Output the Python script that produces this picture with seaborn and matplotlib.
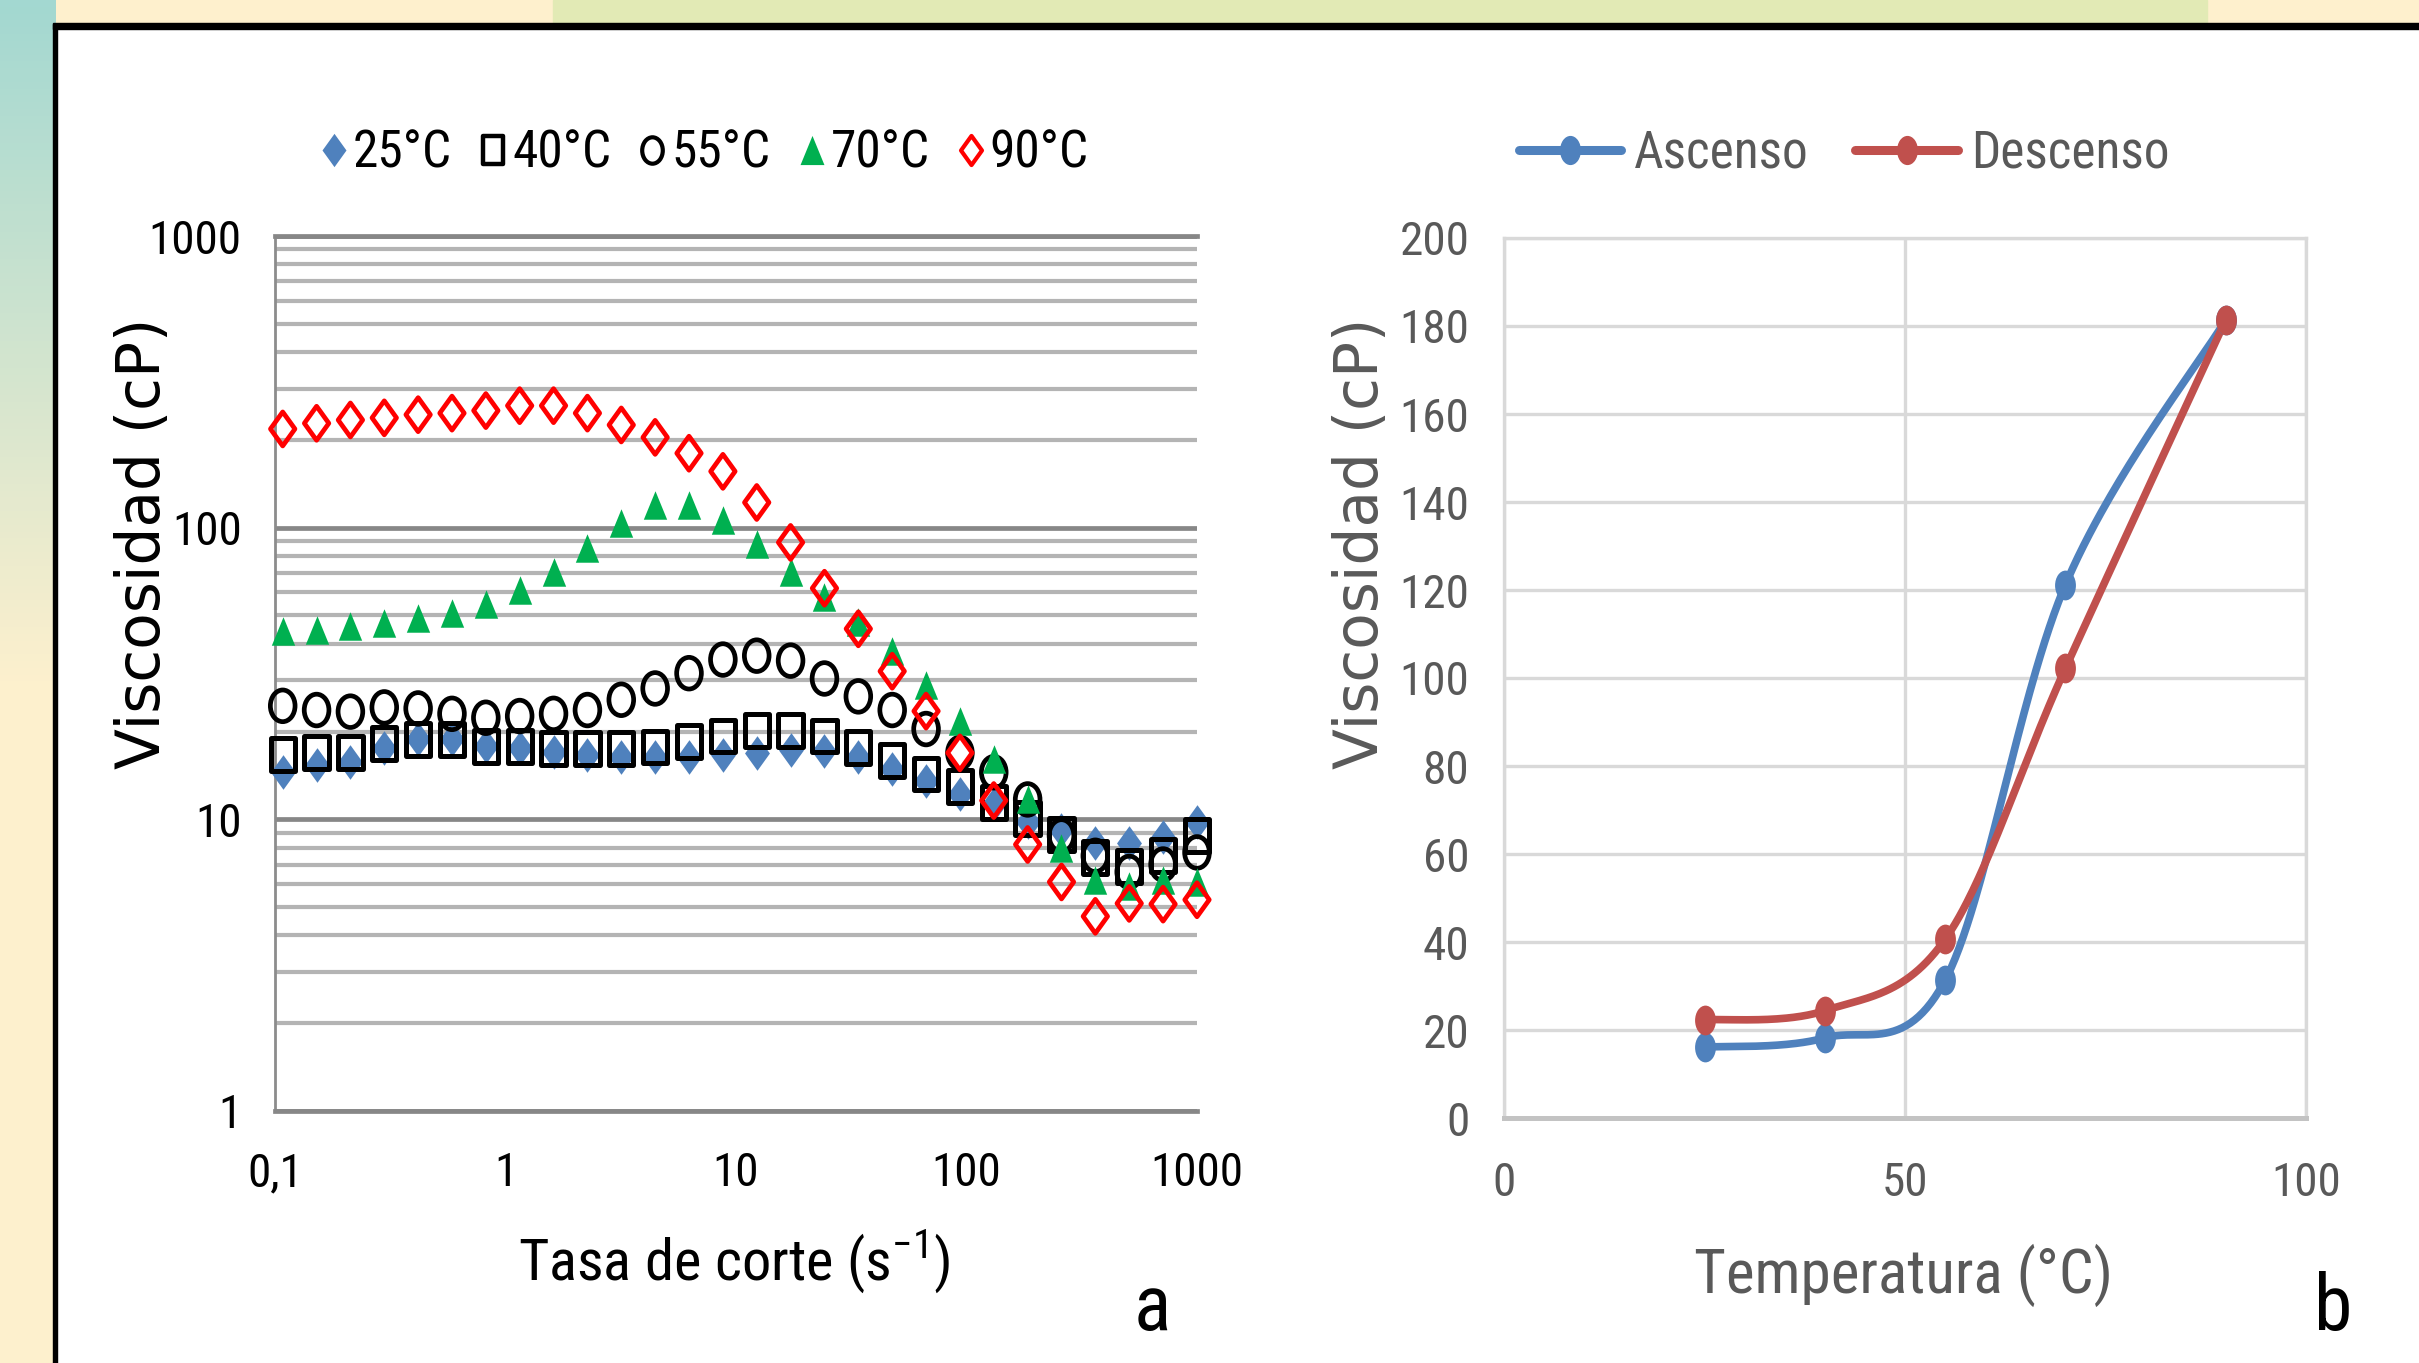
import numpy as np
import matplotlib
matplotlib.use("Agg")
import matplotlib.pyplot as plt
import seaborn as sns
from matplotlib.path import Path
from matplotlib.transforms import Affine2D
from matplotlib.lines import Line2D
from matplotlib.patches import Rectangle
from matplotlib import font_manager as fm
import matplotlib.ticker as mticker

# ---------------- data ----------------
shear_rate = [0.108, 0.1515, 0.2124, 0.2979, 0.4178, 0.5859, 0.8217, 1.152, 1.616,
              2.267, 3.179, 4.459, 6.254, 8.773, 12.30, 17.25, 24.20, 33.94, 47.61,
              66.77, 93.63, 131.3, 184.2, 258.3, 362.2, 508.1, 712.6, 1000.0]
visc_25 = [14.5, 15.4, 15.7, 17.6, 18.8, 18.8, 17.8, 17.6, 17.0, 16.6, 16.3, 16.3, 16.3, 16.6,
           16.9, 17.3, 17.1, 16.3, 14.9, 13.5, 12.2, 11.3, 9.8, 9.2, 8.3, 8.3, 8.7, 9.8]
visc_40 = [16.7, 17.0, 17.0, 18.2, 18.8, 18.8, 17.8, 17.8, 17.5, 17.5, 17.5, 17.7, 18.5, 19.3,
           20.1, 20.2, 19.3, 17.6, 15.9, 14.3, 13.0, 11.4, 10.1, 8.9, 7.4, 6.9, 7.5, 8.8]
visc_55 = [24.5, 23.7, 23.4, 24.2, 24.0, 23.0, 22.3, 22.6, 23.0, 23.7, 25.7, 28.1, 31.7, 35.3,
           36.4, 35.0, 30.4, 26.4, 23.7, 20.4, 16.9, 14.5, 11.7, 8.8, 7.5, 6.6, 7.0, 7.7]
visc_70 = [44.4, 44.7, 46.1, 47.2, 49.1, 51.0, 54.8, 61.1, 70.6, 85.2, 103.6, 119.4, 120.0, 106.6,
           87.8, 70.2, 58.0, 47.3, 37.9, 28.9, 21.8, 16.1, 11.7, 8.0, 6.2, 5.9, 6.2, 6.1]
visc_90 = [218, 228, 234, 238, 244, 247, 252, 262, 262, 247, 225, 204, 180, 156, 122, 89,
           62.0, 45.0, 32.2, 23.5, 16.9, 11.6, 8.2, 6.1, 4.65, 5.15, 5.12, 5.3]
series_labels = ["25°C", "40°C", "55°C", "70°C", "90°C"]

x_tick_vals = [0.1, 1, 10, 100, 1000]
x_tick_labels = ["0,1", "1", "10", "100", "1000"]
y_tick_vals = [1, 10, 100, 1000]
y_tick_labels = ["1", "10", "100", "1000"]

temperature = [25, 40, 55, 70, 90]
visc_ascenso = [16.1, 18.2, 31.3, 121.2, 181.4]
visc_descenso = [22.3, 24.4, 40.6, 102.2, 181.4]
line_labels = ["Ascenso", "Descenso"]

# ---------------- style ----------------
sns.set_style("white")
names = {f.name for f in fm.fontManager.ttflist}
NARROW = next((n for n in ["Liberation Sans Narrow", "Roboto Condensed", "Open Sans Condensed",
                           "Liberation Sans"] if n in names), "DejaVu Sans")
plt.rcParams["font.family"] = [NARROW, "DejaVu Sans"]
plt.rcParams["mathtext.fontset"] = "custom"
plt.rcParams["mathtext.rm"] = NARROW

W, H = 2419, 1363
fig = plt.figure(figsize=(W / 100, H / 100), dpi=100)
fig.patch.set_facecolor("#fef0cd")

def fx(px):
    return px / W

def fy(py):
    return 1 - py / H

# background decorations
bg = fig.add_axes([0, 0, fx(56), 1], zorder=-5)
top_c = np.array([163, 216, 209]) / 255
bot_c = np.array([253, 240, 205]) / 255
t = np.clip(np.linspace(0, 1, 200) / 0.5, 0, 1)[:, None]
grad = (1 - t) * top_c + t * bot_c
bg.imshow(grad[:, None, :], aspect="auto", extent=[0, 1, 0, 1])
bg.set_axis_off()
fig.patches.append(Rectangle((fx(553), fy(24)), fx(2207) - fx(553), 24 / H,
                             transform=fig.transFigure, color="#e2eab5", zorder=-4))
fig.patches.append(Rectangle((fx(57), 0), 1 - fx(57), fy(28),
                             transform=fig.transFigure, color="white", zorder=-3))
fig.patches.append(Rectangle((fx(53), fy(29)), 1 - fx(53), 6 / H,
                             transform=fig.transFigure, color="black", zorder=-2))
fig.patches.append(Rectangle((fx(53), 0), 4 / W, fy(24),
                             transform=fig.transFigure, color="black", zorder=-2))

# custom (horizontally squeezed) markers
def closed(verts):
    codes = [Path.MOVETO] + [Path.LINETO] * (len(verts) - 2) + [Path.CLOSEPOLY]
    return Path(verts, codes)

m_diamond = closed([(0, 1), (0.72, 0), (0, -1), (-0.72, 0), (0, 1)])
m_square = closed([(-0.74, -1), (0.74, -1), (0.74, 1), (-0.74, 1), (-0.74, -1)])
m_tri = closed([(0, 1), (0.82, -1), (-0.82, -1), (0, 1)])
m_circ = Path.unit_circle().transformed(Affine2D().scale(0.78, 1))
m_ell = Path.unit_circle().transformed(Affine2D().scale(0.7, 1))

BLUE_PT = "#4f81bd"
GREEN = "#00b050"
RED = "#ff0000"
styles = [
    dict(marker=m_diamond, s=620, color=BLUE_PT, edgecolor=BLUE_PT, linewidth=0),
    dict(marker=m_square, s=560, color="black", facecolor="none", edgecolor="black", linewidth=3.6),
    dict(marker=m_circ, s=520, color="black", facecolor="none", edgecolor="black", linewidth=3.4),
    dict(marker=m_tri, s=420, color=GREEN, edgecolor=GREEN, linewidth=0),
    dict(marker=m_diamond, s=600, color=RED, facecolor="none", edgecolor=RED, linewidth=3.4),
]

# ---------------- left chart ----------------
axl = fig.add_axes([fx(275), fy(1111), fx(1197) - fx(275), (1111 - 236) / H])
axl.set_facecolor("none")
for vals, st in zip([visc_25, visc_40, visc_55, visc_70, visc_90], styles):
    sns.scatterplot(x=shear_rate, y=vals, ax=axl, clip_on=False, zorder=3, **st)
axl.set_xscale("log")
axl.set_yscale("log")
axl.set_xlim(0.1, 1000)
axl.set_ylim(1, 1000)
axl.set_xticks(x_tick_vals, x_tick_labels)
axl.set_yticks(y_tick_vals, y_tick_labels)
axl.xaxis.set_minor_locator(mticker.NullLocator())
axl.yaxis.set_minor_locator(mticker.LogLocator(base=10, subs=np.arange(2, 10)))
axl.yaxis.set_minor_formatter(mticker.NullFormatter())
axl.yaxis.grid(True, which="minor", color="#b4b4b4", linewidth=3.0, zorder=0)
axl.yaxis.grid(True, which="major", color="#878787", linewidth=3.4, zorder=0)
axl.xaxis.grid(False)
axl.set_axisbelow(True)
axl.spines["right"].set_visible(False)
for side in ["top", "bottom"]:
    axl.spines[side].set_color("#878787")
    axl.spines[side].set_linewidth(3.4)
axl.spines["left"].set_color("#8c8c8c")
axl.spines["left"].set_linewidth(2.0)
axl.tick_params(axis="both", which="both", length=0, labelsize=34, colors="black")
axl.tick_params(axis="x", pad=29)
axl.tick_params(axis="y", pad=24)

# ---------------- right chart ----------------
BLUE = "#4f81bd"
REDL = "#c0504d"

def excel_smooth(xs, ys, n=60):
    P = np.column_stack([xs, ys]).astype(float)
    out = []
    for i in range(len(P) - 1):
        p0 = P[i - 1] if i > 0 else P[i]
        p1, p2 = P[i], P[i + 1]
        p3 = P[i + 2] if i + 2 < len(P) else P[i + 1]
        c1 = p1 + (p2 - p0) / 6
        c2 = p2 - (p3 - p1) / 6
        tt = np.linspace(0, 1, n)[:, None]
        seg = (1 - tt) ** 3 * p1 + 3 * (1 - tt) ** 2 * tt * c1 + 3 * (1 - tt) * tt ** 2 * c2 + tt ** 3 * p2
        out.append(seg if i == 0 else seg[1:])
    return np.vstack(out)

axr = fig.add_axes([fx(1504), fy(1118), fx(2306) - fx(1504), (1118 - 238) / H])
axr.set_facecolor("none")
for vals, col in [(visc_ascenso, BLUE), (visc_descenso, REDL)]:
    cur = excel_smooth(temperature, vals)
    sns.lineplot(x=cur[:, 0], y=cur[:, 1], ax=axr, sort=False, estimator=None, color=col,
                 linewidth=5.5, solid_capstyle="round", zorder=3)
    sns.scatterplot(x=temperature, y=vals, ax=axr, marker=m_ell, s=460, color=col,
                    edgecolor=col, linewidth=0, zorder=4, clip_on=False)
axr.set_xlim(0, 100)
axr.set_ylim(0, 200)
axr.set_xticks([0, 50, 100])
axr.set_yticks(np.arange(0, 201, 20))
axr.grid(True, color="#d9d9d9", linewidth=2.4, zorder=0)
axr.set_axisbelow(True)
for side in ["top", "right", "left"]:
    axr.spines[side].set_color("#d9d9d9")
    axr.spines[side].set_linewidth(2.4)
axr.spines["bottom"].set_color("#c3c3c3")
axr.spines["bottom"].set_linewidth(3.6)
axr.tick_params(axis="both", length=0, labelsize=34, colors="#595959")
axr.tick_params(axis="x", pad=31)
axr.tick_params(axis="y", pad=25)

# ---------------- labels ----------------
fig.text(fx(143), fy(543), "Viscosidad (cP)", rotation=90, ha="center", va="center",
         fontsize=43, family="DejaVu Sans", color="black")
fig.text(fx(1361), fy(543), "Viscosidad (cP)", rotation=90, ha="center", va="center",
         fontsize=43, family="DejaVu Sans", color="#595959")
fig.text(fx(734), fy(1280), r"Tasa de corte (s$^{\mathregular{-1}}$)", ha="center",
         va="baseline", fontsize=42, color="black")
fig.text(fx(1904), fy(1293), "Temperatura (°C)", ha="center", va="baseline",
         fontsize=44, color="#595959")
fig.text(fx(1152), fy(1330), "a", ha="center", va="baseline", fontsize=56, color="black")
fig.text(fx(2333), fy(1330), "b", ha="center", va="baseline", fontsize=56, color="black")

# ---------------- legends ----------------
leg_handles = [
    Line2D([], [], ls="none", marker=m_diamond, markersize=24, mfc=BLUE_PT, mec=BLUE_PT, mew=0),
    Line2D([], [], ls="none", marker=m_square, markersize=20, mfc="none", mec="black", mew=3.2),
    Line2D([], [], ls="none", marker=m_circ, markersize=19, mfc="none", mec="black", mew=3.0),
    Line2D([], [], ls="none", marker=m_tri, markersize=21, mfc=GREEN, mec=GREEN, mew=0),
    Line2D([], [], ls="none", marker=m_diamond, markersize=21, mfc="none", mec=RED, mew=3.0),
]
fig.legend(leg_handles, series_labels, loc="center", bbox_to_anchor=(fx(705), fy(154)),
           ncol=5, frameon=False, fontsize=37, handlelength=0.5, handletextpad=0.12,
           columnspacing=0.55, borderaxespad=0, labelcolor="black")
line_handles = [
    Line2D([], [], color=BLUE, lw=6.5, marker=m_ell, markersize=20, mfc=BLUE, mec=BLUE,
           solid_capstyle="round"),
    Line2D([], [], color=REDL, lw=6.5, marker=m_ell, markersize=20, mfc=REDL, mec=REDL,
           solid_capstyle="round"),
]
fig.legend(line_handles, line_labels, loc="center", bbox_to_anchor=(fx(1844), fy(154)),
           ncol=2, frameon=False, fontsize=37, handlelength=2.0, handletextpad=0.25,
           columnspacing=0.9, borderaxespad=0, labelcolor="#595959")

fig.savefig("out.png", dpi=100, facecolor=fig.get_facecolor())
